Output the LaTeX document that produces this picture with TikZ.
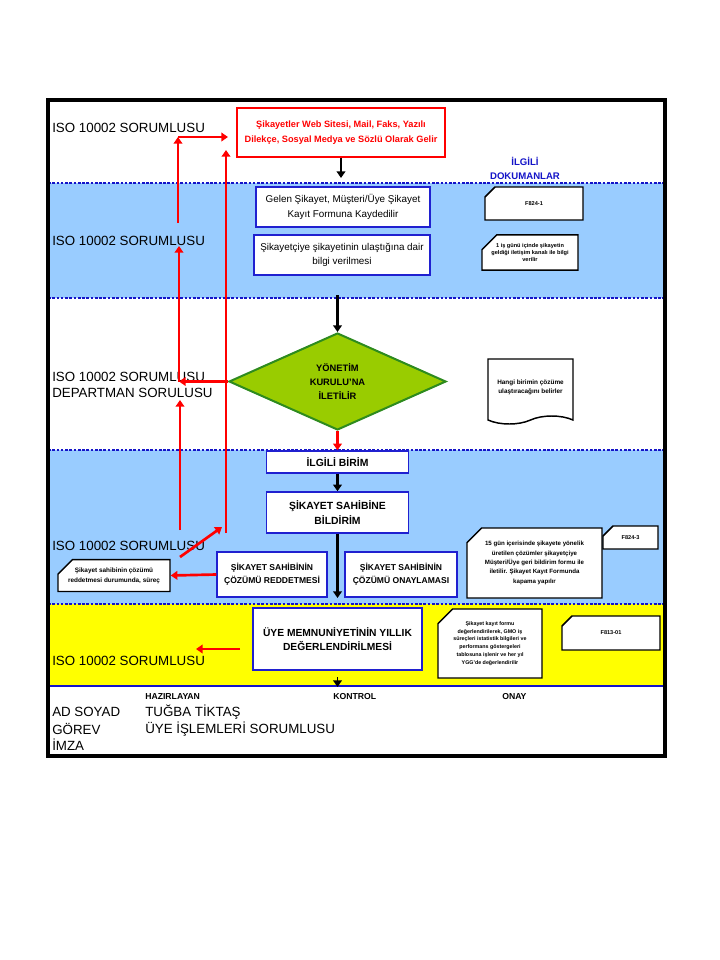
\documentclass[tikz,border=0pt]{standalone}
\usepackage{fontspec}
\setmainfont{Liberation Sans}
\usetikzlibrary{shapes.geometric,shapes.misc,shapes.symbols,arrows.meta}
\definecolor{seritmavi}{HTML}{99CCFF}
\definecolor{seritsari}{HTML}{FFFF00}
\definecolor{cizgimavi}{HTML}{1414C8}
\definecolor{kutumavi}{HTML}{2020D0}
\definecolor{yesil}{HTML}{99CC00}
\definecolor{koyuyesil}{HTML}{2E8B1E}
\definecolor{kirmizi}{HTML}{FF0000}

\begin{document}
\begin{tikzpicture}[x=0.75pt, y=-0.75pt,
    kutu/.style={rectangle, draw=kutumavi, line width=1.1pt, fill=white, align=center, inner sep=1pt},
    belge/.style={chamfered rectangle, chamfered rectangle corners=north west, chamfered rectangle xsep=6pt, chamfered rectangle ysep=5pt, draw, line width=1.1pt, fill=white, align=center, inner sep=1pt, font=\bfseries\fontsize{4.2}{5.6}\selectfont},
    serit/.style={anchor=west, inner sep=0pt, align=left, font=\fontsize{10}{11.5}\selectfont},
    baslik/.style={anchor=west, inner sep=0pt, font=\bfseries\fontsize{6.5}{8}\selectfont},
    ok/.style={-{Triangle[length=5pt,width=6.5pt]}, line width=2pt},
    kok/.style={ok, draw=kirmizi},
    ayrac/.style={draw=cizgimavi, line width=1.8pt, dash pattern=on 2pt off 1.2pt}
]
    \useasboundingbox (0,0) rectangle (720,960);
    \fill[white] (0,0) rectangle (720,960);

    % Şeritler
    \fill[seritmavi] (48,183) rectangle (665,298);
    \fill[seritmavi] (48,450) rectangle (665,604);
    \fill[seritsari] (48,604) rectangle (665,686);
    \foreach \y in {183,298,450,604} \draw[ayrac] (48,\y) -- (665,\y);
    \draw[draw=cizgimavi, line width=2pt] (48,686) -- (665,686);
    \draw[line width=2.6pt] (48,100) rectangle (665,756);

    % Sorumlular
    \node[serit] (s1) at (52,128) {ISO 10002 SORUMLUSU};
    \node[serit] (s2) at (52,241) {ISO 10002 SORUMLUSU};
    \node[serit] (s3) at (52,385) {ISO 10002 SORUMLUSU\\DEPARTMAN SORULUSU};
    \node[serit] (s4) at (52,546) {ISO 10002 SORUMLUSU};
    \node[serit] (s5) at (52,661) {ISO 10002 SORUMLUSU};
    \node[align=center, text=cizgimavi, font=\bfseries\fontsize{7.2}{10.5}\selectfont] (ilgili) at (525,168) {İLGİLİ\\DOKUMANLAR};

    % Süreç adımları
    \node[kutu, draw=kirmizi, text=kirmizi, minimum width=156pt, minimum height=36.75pt, font=\bfseries\fontsize{6.9}{11}\selectfont] (kaynak) at (341,132.5) {Şikayetler Web Sitesi, Mail, Faks, Yazılı\\Dilekçe, Sosyal Medya ve Sözlü Olarak Gelir};
    \node[kutu, minimum width=130.5pt, minimum height=30pt, font=\fontsize{7.4}{11}\selectfont] (kayit) at (343,207) {Gelen Şikayet, Müşteri/Üye Şikayet\\Kayıt Formuna Kaydedilir};
    \node[kutu, minimum width=132pt, minimum height=30pt, font=\fontsize{7.4}{11}\selectfont] (bilgi) at (342,255) {Şikayetçiye şikayetinin ulaştığına dair\\bilgi verilmesi};
    \node[diamond, aspect=2, draw=koyuyesil, line width=1.5pt, fill=yesil, minimum width=162.75pt, minimum height=72.75pt, inner sep=0pt, align=center, font=\bfseries\fontsize{7}{10.5}\selectfont] (yk) at (337.5,381.5) {YÖNETİM\\KURULU'NA\\İLETİLİR};
    \node[kutu, minimum width=106.5pt, minimum height=16.5pt, font=\bfseries\fontsize{7.8}{11}\selectfont] (birim) at (337.5,462) {İLGİLİ BİRİM};
    \node[kutu, minimum width=106.5pt, minimum height=30.75pt, font=\bfseries\fontsize{7.8}{11}\selectfont] (bildirim) at (337.5,512.5) {ŞİKAYET SAHİBİNE\\BİLDİRİM};
    \node[kutu, minimum width=82.5pt, minimum height=33.75pt, font=\bfseries\fontsize{6.4}{9.8}\selectfont] (red) at (272,574.5) {ŞİKAYET SAHİBİNİN\\ÇÖZÜMÜ REDDETMESİ};
    \node[kutu, minimum width=84pt, minimum height=33.75pt, font=\bfseries\fontsize{6.4}{9.8}\selectfont] (onay) at (401,574.5) {ŞİKAYET SAHİBİNİN\\ÇÖZÜMÜ ONAYLAMASI};
    \node[kutu, minimum width=126.75pt, minimum height=46.5pt, font=\bfseries\fontsize{7.7}{11}\selectfont] (memnun) at (337.5,639) {ÜYE MEMNUNİYETİNİN YILLIK\\DEĞERLENDİRİLMESİ};

    % Dokümanlar
    \node[belge, minimum width=73.5pt, minimum height=24.75pt] (f1) at (534,203.5) {F824-1};
    \node[belge, minimum width=72pt, minimum height=24.75pt] (d1) at (530,252.5) {1 iş günü içinde şikayetin\\geldiği iletişim kanalı ile bilgi\\verilir};
    \node[tape, tape bend top=none, tape bend bottom=in and out, tape bend height=6pt, draw, line width=1.1pt, fill=white, align=center, inner sep=1pt, minimum width=63.75pt, minimum height=48.75pt, font=\bfseries\fontsize{4.8}{6.8}\selectfont] (d2) at (530.5,387.5) {Hangi birimin çözüme\\ulaştıracağını belirler};
    \node[belge, minimum width=84pt, minimum height=23.25pt, font=\bfseries\fontsize{4.8}{7.5}\selectfont] (d3) at (114,575.5) {Şikayet sahibinin çözümü\\reddetmesi durumunda, süreç};
    \node[belge, minimum width=101.25pt, minimum height=52.5pt, font=\bfseries\fontsize{4.6}{7}\selectfont] (d4) at (534.5,563) {15 gün içerisinde şikayete yönelik\\üretilen çözümler şikayetçiye\\Müşteri/Üye geri bildirim formu ile\\iletilir. Şikayet Kayıt Formunda\\kapama yapılır};
    \node[belge, minimum width=41.25pt, minimum height=17.25pt] (f3) at (630.5,537.5) {F824-3};
    \node[belge, minimum width=78pt, minimum height=51.75pt, font=\bfseries\fontsize{4}{5.9}\selectfont] (d5) at (490,643.5) {Şikayet kayıt formu\\değerlendirilerek, GMO iş\\süreçleri istatistik bilgileri ve\\performans göstergeleri\\tablosuna işlenir ve her yıl\\YGG'de değerlendirilir};
    \node[belge, minimum width=73.5pt, minimum height=25.5pt] (f4) at (611,633) {F813-01};

    % Akış okları
    \coordinate (k1) at (341,178);
    \coordinate (k2) at (337.5,295);
    \coordinate (k3) at (337.5,598);
    \coordinate (k4) at (337.5,677);
    \coordinate (k5) at (337.5,687);
    \draw[ok] (kaynak.south) -- (k1);
    \draw[ok] (k2) -- (yk.north);
    \draw[kok] (yk.south) -- (birim.north);
    \draw[ok] (birim.south) -- (bildirim.north);
    \draw[ok] (bildirim.south) -- (k3);
    \draw[ok, line width=1.2pt] (k4) -- (k5);

    % Geri dönüş okları
    \coordinate (a1) at (178,137);
    \coordinate (a1u) at (228,137);
    \coordinate (a2) at (178,223);
    \coordinate (a3) at (179,246);
    \coordinate (a4) at (179,381.5);
    \coordinate (a5) at (180,400);
    \coordinate (a6) at (180,530);
    \coordinate (b1) at (226,150);
    \coordinate (b2) at (226,533);
    \coordinate (c1) at (180,557);
    \coordinate (c2) at (222,527);
    \coordinate (m1) at (240,649);
    \coordinate (m2) at (196,649);
    \draw[kok] (a2) -- (a1);
    \draw[kok] (a1) -- (a1u);
    \draw[kok] (a4) -- (a3);
    \draw[kok] (yk.west) -- (a4);
    \draw[kok] (a6) -- (a5);
    \draw[kok] (b2) -- (b1);
    \draw[kok] (c1) -- (c2);
    \draw[kok] (red.west) -- (d3.east);
    \draw[kok] (m1) -- (m2);

    % İmza alanı
    \node[baslik] (haz) at (145,697) {HAZIRLAYAN};
    \node[baslik] (kont) at (333,697) {KONTROL};
    \node[baslik] (onayb) at (502,697) {ONAY};
    \node[serit] (ad) at (52,712) {AD SOYAD};
    \node[serit] (gorev) at (52,729) {GÖREV};
    \node[serit] (imza) at (52,745) {İMZA};
    \node[serit] (isim) at (145,712) {TUĞBA TİKTAŞ};
    \node[serit] (unvan) at (145,729) {ÜYE İŞLEMLERİ SORUMLUSU};
\end{tikzpicture}
\end{document}
